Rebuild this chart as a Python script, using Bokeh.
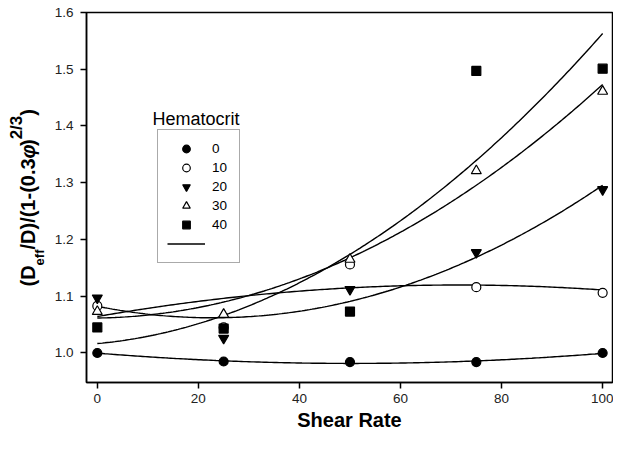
import math
import numpy as np
from bokeh.plotting import figure
from bokeh.layouts import row
from bokeh.models import (Range1d, FixedTicker, NumeralTickFormatter, Legend,
                          LegendItem, Label)
from bokeh.embed import file_html
from bokeh.resources import INLINE

# ---- data ----
shear_rate = [0, 25, 50, 75, 100]
hct_labels = ["0", "10", "20", "30", "40"]
hct_0 = [1.000, 0.985, 0.984, 0.984, 1.000]
hct_10 = [1.083, 1.045, 1.156, 1.116, 1.106]
hct_20 = [1.097, 1.026, 1.112, 1.177, 1.288]
hct_30 = [1.073, 1.068, 1.165, 1.321, 1.461]
hct_40 = [1.045, 1.043, 1.073, 1.497, 1.501]
x_ticks = [0, 20, 40, 60, 80, 100]
y_ticks = [1.0, 1.1, 1.2, 1.3, 1.4, 1.5, 1.6]

FONT = "Liberation Sans"
TOTAL_W, TOTAL_H = 613, 436
TITLE_W = 50

# ---- main plot ----
p = figure(width=TOTAL_W - TITLE_W, height=TOTAL_H, output_backend="svg",
           toolbar_location=None,
           x_range=Range1d(-2.14, 101.95), y_range=Range1d(0.948, 1.6),
           min_border_left=86 - TITLE_W, min_border_right=1, min_border_top=12,
           min_border_bottom=54)
p.grid.visible = False
p.outline_line_color = "black"
p.outline_line_width = 1.5
p.background_fill_color = "white"
p.border_fill_color = "white"

for ax in (p.xaxis[0], p.yaxis[0]):
    ax.axis_line_width = 1.5
    ax.axis_line_color = "black"
    ax.major_tick_out = 6
    ax.major_tick_in = 0
    ax.major_tick_line_width = 1.5
    ax.minor_tick_line_color = None
    ax.major_label_text_font = FONT
    ax.major_label_text_font_size = "13.5px"
    ax.major_label_text_color = "#222222"

p.xaxis.ticker = FixedTicker(ticks=x_ticks)
p.yaxis.ticker = FixedTicker(ticks=y_ticks)
p.yaxis.formatter = NumeralTickFormatter(format="0.0")
p.xaxis.major_label_standoff = 5
p.yaxis.major_label_standoff = 7
p.xaxis.axis_label = "Shear Rate"
p.xaxis.axis_label_text_font = FONT
p.xaxis.axis_label_text_font_size = "20px"
p.xaxis.axis_label_text_font_style = "bold"
p.xaxis.axis_label_text_color = "black"
p.xaxis.axis_label_standoff = 3

series = [hct_0, hct_10, hct_20, hct_30, hct_40]
markers = ["circle", "circle", "inverted_triangle", "triangle", "square"]
fills = ["black", "white", "black", "white", "black"]
sizes = [9, 9, 10, 10, 9]

xs_fit = np.linspace(0, 100, 201)
line_renderers = []
for ys in series:
    xa = np.array(shear_rate, dtype=float)
    ya = np.array(ys, dtype=float)
    coef = np.polyfit(xa, ya, 2)
    r = p.line(xs_fit, np.polyval(coef, xs_fit), line_color="black", line_width=1.4)
    line_renderers.append(r)

marker_renderers = []
for ys, mk, fc, sz in zip(series, markers, fills, sizes):
    r = p.scatter(shear_rate, ys, marker=mk, size=sz, fill_color=fc,
                  line_color="black", line_width=1.2)
    marker_renderers.append(r)

items = [LegendItem(label=lab, renderers=[r]) for lab, r in zip(hct_labels, marker_renderers)]
items.append(LegendItem(label=" ", renderers=[line_renderers[0]]))
legend = Legend(items=items, location=(71, 119), orientation="vertical",
                glyph_width=38, glyph_height=19, label_height=19, spacing=0,
                padding=9, label_standoff=7, label_width=18, margin=0,
                border_line_color="#555555", border_line_width=1.5,
                background_fill_color="white", background_fill_alpha=1,
                label_text_font=FONT, label_text_font_size="13.5px",
                label_text_color="black")
p.add_layout(legend)

p.add_layout(Label(x=66, y=264, x_units="screen", y_units="screen",
                   text="Hematocrit", text_font=FONT, text_font_size="18px",
                   text_baseline="alphabetic", text_align="left", text_color="black"))

# ---- narrow left strip holding the rotated y-axis title ----
t = figure(width=TITLE_W, height=TOTAL_H, output_backend="svg", toolbar_location=None,
           x_range=Range1d(0, TITLE_W), y_range=Range1d(0, TOTAL_H),
           x_axis_location=None, y_axis_location=None,
           min_border=0, min_border_left=0, min_border_right=0,
           min_border_top=0, min_border_bottom=0)
t.grid.visible = False
t.outline_line_color = None
t.background_fill_color = "white"
t.border_fill_color = "white"

em = {"(": 0.333, "D": 0.722, "/": 0.278, ")": 0.333, "1": 0.556, "-": 0.333,
      "0": 0.556, ".": 0.278, "3": 0.556, "2": 0.556, "e": 0.556, "f": 0.333,
      "φ": 0.62}
# (text, font px, style, centre x of the rotated line in px)
pieces = [("(D", 20, "bold", 27), ("eff", 13, "bold", 39),
          ("/D)/(1-(0.3", 20, "bold", 27), ("φ", 20, "bold italic", 27),
          (")", 20, "bold", 27), ("2/3", 17, "bold", 16), (")", 20, "bold", 27)]
pos = 96.0
for txt, fs, style, cx in pieces:
    t.add_layout(Label(x=cx, y=pos, x_units="screen", y_units="screen",
                       text=txt, angle=math.pi / 2, text_font=FONT,
                       text_font_size=f"{fs}px", text_font_style=style,
                       text_align="left", text_baseline="middle",
                       text_color="black"))
    pos += sum(em.get(c, 0.556) for c in txt) * fs

layout = row(t, p, spacing=0)
open("out.html", "w").write(file_html(layout, INLINE))
